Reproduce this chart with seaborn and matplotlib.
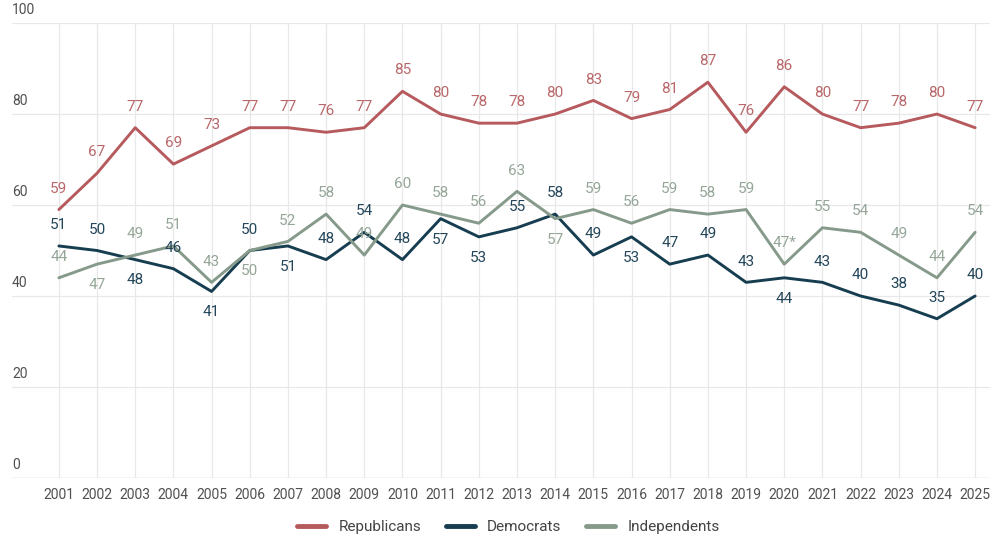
import pandas as pd
import seaborn as sns
import matplotlib.pyplot as plt
import matplotlib.transforms as mtransforms
from matplotlib.lines import Line2D

years = list(range(2001, 2026))
republicans = [59, 67, 77, 69, 73, 77, 77, 76, 77, 85, 80, 78, 78, 80, 83, 79, 81, 87, 76, 86, 80, 77, 78, 80, 77]
democrats = [51, 50, 48, 46, 41, 50, 51, 48, 54, 48, 57, 53, 55, 58, 49, 53, 47, 49, 43, 44, 43, 40, 38, 35, 40]
independents = [44, 47, 49, 51, 43, 50, 52, 58, 49, 60, 58, 56, 63, 57, 59, 56, 59, 58, 59, 47, 55, 54, 49, 44, 54]
ind_labels = [str(v) for v in independents]
ind_labels[years.index(2020)] = "47*"

# where each value label sits: +1 above the point, -1 below
rep_side = [1] * 25
dem_side = [1, 1, -1, 1, -1, 1, -1, 1, 1, 1, -1, -1, 1, 1, 1, -1, 1, 1, 1, -1, 1, 1, 1, 1, 1]
ind_side = [1, -1, 1, 1, 1, -1, 1, 1, 1, 1, 1, 1, 1, -1, 1, 1, 1, 1, 1, 1, 1, 1, 1, 1, 1]

colors = {"Republicans": "#b65a5e", "Democrats": "#163d50", "Independents": "#869a8b"}
label_colors = {"Republicans": "#b9676a", "Democrats": "#23465a", "Independents": "#95a698"}

df = pd.DataFrame({
    "Year": years * 3,
    "Value": republicans + democrats + independents,
    "Party": ["Republicans"] * 25 + ["Democrats"] * 25 + ["Independents"] * 25,
})

sns.set_style("white")
plt.rcParams["font.family"] = ["Roboto", "DejaVu Sans"]

fig = plt.figure(figsize=(9.93, 5.37), dpi=100)
ax = fig.add_axes([0.012, 0.110, 0.985, 0.847])

sns.lineplot(data=df, x="Year", y="Value", hue="Party", palette=colors,
             linewidth=2.1, ax=ax, legend=False, zorder=3)

ax.set_xlim(1999.77, 2025.39)
ax.set_ylim(0, 100)
ax.set_xticks(years)
ax.set_xticklabels([str(y) for y in years], fontsize=10, color="#505050")
ax.tick_params(axis="x", length=0, pad=7)
ax.set_yticks([0, 20, 40, 60, 80, 100])
ax.set_yticklabels([])
ax.tick_params(axis="y", length=0)
ax.grid(True, color="#e8e8e8", linewidth=0.9, zorder=0)
for s in ax.spines.values():
    s.set_visible(False)
ax.axhline(0, color="#d9d9d9", linewidth=1, zorder=1)
ax.set_xlabel("")
ax.set_ylabel("")

trans = mtransforms.blended_transform_factory(ax.transAxes, ax.transData)
for v in [0, 20, 40, 60, 80, 100]:
    ax.text(0.0, v + 1.3, str(v), transform=trans, ha="left", va="bottom",
            fontsize=10, color="#505050")

series = [("Republicans", republicans, [str(v) for v in republicans], rep_side),
          ("Democrats", democrats, [str(v) for v in democrats], dem_side),
          ("Independents", independents, ind_labels, ind_side)]
for name, vals, labs, sides in series:
    for x, v, lab, sd in zip(years, vals, labs, sides):
        ax.annotate(lab, (x, v), xytext=(0, 15 * sd), textcoords="offset points",
                    ha="center", va="center", fontsize=11,
                    color=label_colors[name], zorder=4)

handles = [Line2D([0], [0], color=colors[n], linewidth=3.5) for n in colors]
fig.legend(handles, list(colors), loc="center", bbox_to_anchor=(0.512, 0.018),
           ncol=3, frameon=False, fontsize=11, handlelength=1.9,
           columnspacing=1.6, labelcolor="#444444")

fig.savefig("out.png", dpi=100)
